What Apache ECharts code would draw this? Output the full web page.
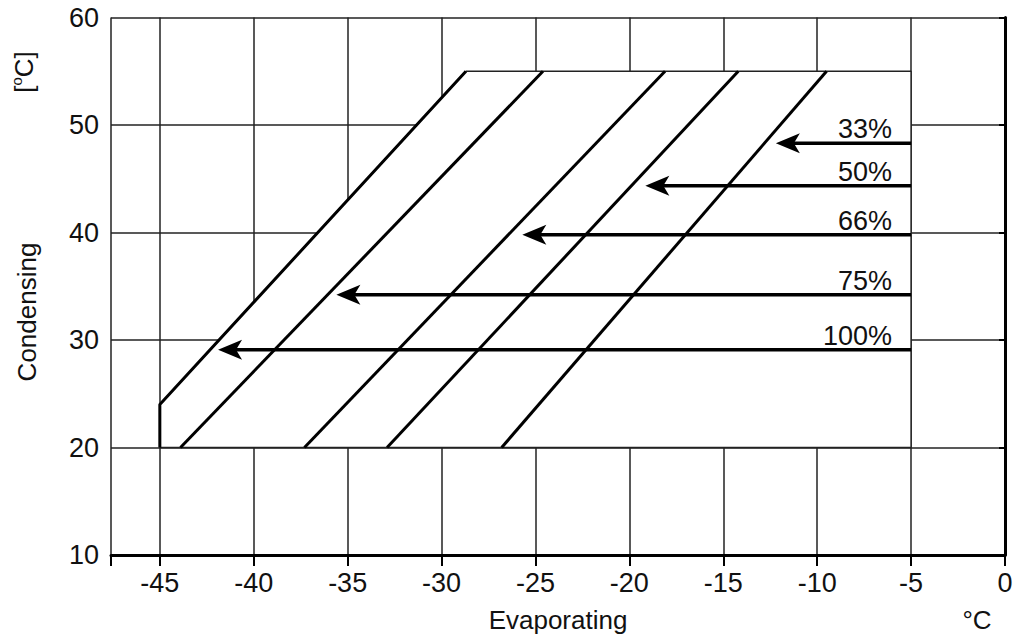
<!DOCTYPE html>
<html>
<head>
<meta charset="utf-8">
<script src="https://cdn.jsdelivr.net/npm/echarts@6/dist/echarts.min.js"></script>
<style>
html,body{margin:0;padding:0;background:#fff;}
#chart{width:1020px;height:638px;}
</style>
</head>
<body>
<div id="chart"></div>
<script>
// ---- data ----
const xTickValues = [-47.6, -45, -40, -35, -30, -25, -20, -15, -10, -5, 0];
const xLabelValues = [-45, -40, -35, -30, -25, -20, -15, -10, -5, 0];
const yMin = 10, yMax = 60, yStep = 10;

// envelope (left boundary + top) and its outline
const envelopeX = [-45, -45, -28.7, -5];
const envelopeY = [20, 24, 55, 55];
const outlineX = [-28.7, -5, -5, -45];
const outlineY = [55, 55, 20, 20];

// iso lines inside the envelope: [bottom x at 20, top x at 55]
const isoBottomX = [-43.9, -37.3, -32.9, -26.8];
const isoTopX = [-24.6, -18.1, -14.2, -9.5];
const isoBottomY = 20, isoTopY = 55;

// capacity arrows
const capLabels = ['33%', '50%', '66%', '75%', '100%'];
const capY = [48.3, 44.35, 39.8, 34.2, 29.1];
const capStartX = [-5, -5, -5, -5, -5];
const capTipX = [-12.2, -19.15, -25.7, -35.6, -41.9];
const headLen = 0.9; // shaft stops under the arrow head

const FONT = "'Liberation Sans', Arial, Helvetica, sans-serif";
const TXT = '#111';

const chart = echarts.init(document.getElementById('chart'), null, {renderer: 'svg'});

const series = [];
series.push({
  type: 'line', name: 'envelopeFill', silent: true, symbol: 'none', z: 1,
  data: envelopeX.map((x, i) => [x, envelopeY[i]]),
  lineStyle: {width: 0, opacity: 0},
  areaStyle: {color: '#ffffff', opacity: 1, origin: 20}
});
series.push({
  type: 'line', name: 'outline', silent: true, symbol: 'none', z: 2,
  data: outlineX.map((x, i) => [x, outlineY[i]]),
  lineStyle: {color: '#222', width: 1.5}
});
series.push({
  type: 'line', name: 'envelopeLeft', silent: true, symbol: 'none', z: 3,
  data: envelopeX.slice(0, 3).map((x, i) => [x, envelopeY[i]]),
  lineStyle: {color: '#000', width: 3}
});
isoBottomX.forEach((bx, i) => {
  series.push({
    type: 'line', name: 'iso' + i, silent: true, symbol: 'none', z: 3,
    data: [[bx, isoBottomY], [isoTopX[i], isoTopY]],
    lineStyle: {color: '#000', width: 3}
  });
});
// arrow shafts
capY.forEach((y, i) => {
  series.push({
    type: 'line', name: 'shaft' + i, silent: true, symbol: 'none', z: 4,
    data: [[capStartX[i], y], [capTipX[i] + headLen, y]],
    lineStyle: {color: '#000', width: 3.5}
  });
});
// arrow heads (tip points left, tip at the data point)
series.push({
  type: 'scatter', name: 'heads', silent: true, z: 5,
  symbol: 'arrow', symbolSize: [15, 24], symbolRotate: 90,
  itemStyle: {color: '#000', opacity: 1},
  data: capY.map((y, i) => [capTipX[i], y])
});
// capacity labels
series.push({
  type: 'scatter', name: 'capLabels', silent: true, z: 6,
  symbolSize: 0, itemStyle: {color: '#000', opacity: 1},
  data: capY.map((y, i) => [capStartX[i], y, capLabels[i]]),
  label: {
    show: true, position: 'left', distance: 19, offset: [0, -14],
    formatter: p => p.value[2],
    fontFamily: FONT, fontSize: 27, color: TXT, opacity: 1,
    textBorderWidth: 0, textBorderColor: 'transparent', textShadowBlur: 0
  }
});

chart.setOption({
  animation: false,
  backgroundColor: '#fff',
  grid: {left: 111, right: 15, top: 17.5, bottom: 83, containLabel: false},
  xAxis: {
    type: 'value', min: -47.6, max: 0,
    name: 'Evaporating', nameLocation: 'middle', nameGap: 52,
    nameTextStyle: {fontFamily: FONT, fontSize: 26, color: TXT},
    axisLine: {show: true, onZero: false, lineStyle: {color: '#000', width: 3}},
    axisTick: {show: true, length: 11, customValues: xTickValues, lineStyle: {color: '#000', width: 2}},
    axisLabel: {show: true, customValues: xLabelValues, margin: 14, fontFamily: FONT, fontSize: 27, color: TXT},
    splitLine: {show: true, lineStyle: {color: '#222', width: 1.5}}
  },
  yAxis: {
    type: 'value', min: yMin, max: yMax, interval: yStep,
    axisLine: {show: true, lineStyle: {color: '#000', width: 3}},
    axisTick: {show: true, length: 6, lineStyle: {color: '#000', width: 2}},
    axisLabel: {margin: 12, fontFamily: FONT, fontSize: 27, color: TXT},
    splitLine: {show: true, lineStyle: {color: '#222', width: 1.5}}
  },
  graphic: [
    {type: 'text', x: 27, y: 312, rotation: Math.PI / 2, silent: true,
     style: {text: 'Condensing', fontFamily: FONT, fontSize: 26, fill: TXT, align: 'center', verticalAlign: 'middle'}},
    {type: 'text', x: 24, y: 72, rotation: Math.PI / 2, silent: true,
     style: {text: '{a|[}{b|o}{a|C]}', align: 'center', verticalAlign: 'middle',
       rich: {a: {fontFamily: FONT, fontSize: 26, fill: TXT, lineHeight: 30},
              b: {fontFamily: FONT, fontSize: 15, fill: TXT, verticalAlign: 'top', lineHeight: 30}}}},
    {type: 'text', x: 977, y: 620, silent: true,
     style: {text: '°C', fontFamily: FONT, fontSize: 26, fill: TXT, align: 'center', verticalAlign: 'middle'}}
  ],
  series: series
});
</script>
</body>
</html>
